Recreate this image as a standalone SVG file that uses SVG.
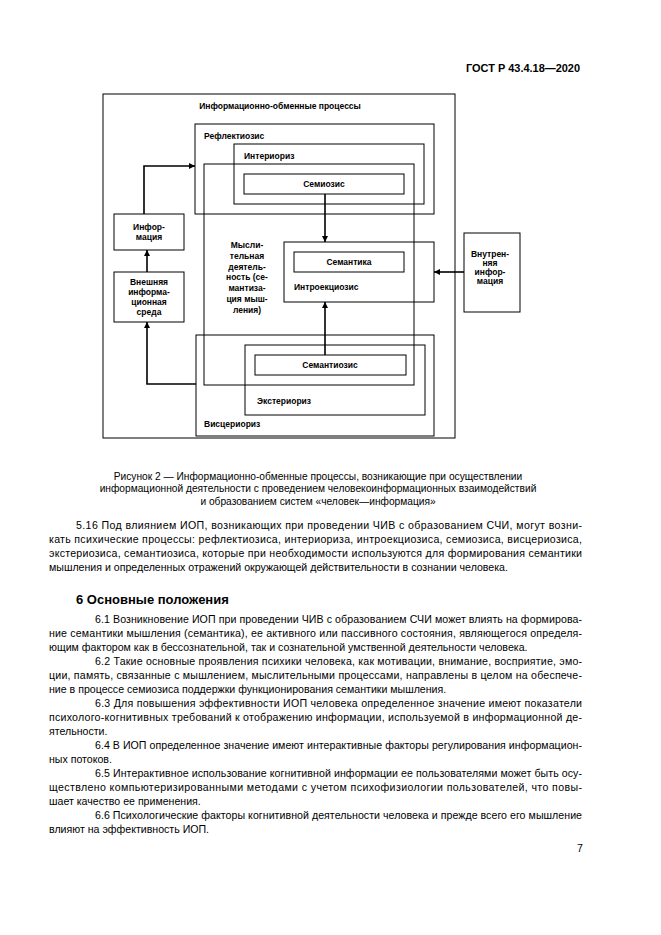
<svg xmlns="http://www.w3.org/2000/svg" width="661" height="935" viewBox="0 0 661 935">
<style>
.bx{fill:none;stroke:#000;stroke-width:1}
.cn{fill:none;stroke:#000;stroke-width:1.6}
.lb{font-family:"Liberation Sans",Arial,sans-serif;font-size:8.5px;font-weight:bold;fill:#000}
.c{text-anchor:middle}
.body{font-family:"Liberation Sans",Arial,sans-serif;font-size:10.6px;fill:#000}
.cap{font-family:"Liberation Sans",Arial,sans-serif;font-size:10.2px;fill:#000;text-anchor:middle}
.hd{font-family:"Liberation Sans",Arial,sans-serif;font-weight:bold;fill:#000}
</style>
<defs>
<marker id="ah" viewBox="0 0 10 10" refX="10" refY="5" markerWidth="4" markerHeight="4" orient="auto" markerUnits="strokeWidth">
<path d="M0,0 L10,5 L0,10 z" fill="#000"/>
</marker>
</defs>
<rect width="661" height="935" fill="#fff"/>
<text class="hd" x="466" y="72" font-size="11" textLength="114" lengthAdjust="spacingAndGlyphs">ГОСТ Р 43.4.18—2020</text>

<g id="outer"><rect class="bx" x="103" y="94" width="352" height="344"/>
<text class="lb c" x="280" y="109">Информационно-обменные процессы</text></g>
<g id="reflekt"><rect class="bx" x="195" y="124" width="239" height="90"/>
<text class="lb" x="204" y="139">Рефлектиозис</text></g>
<g id="interior"><rect class="bx" x="234" y="144" width="190" height="60"/>
<text class="lb" x="244" y="159">Интериориз</text></g>
<g id="mysl"><rect class="bx" x="204" y="164" width="210" height="221"/>
<text class="lb c" x="247"><tspan x="247" y="248">Мысли-</tspan><tspan x="247" y="259">тельная</tspan><tspan x="247" y="270">деятель-</tspan><tspan x="247" y="280">ность (се-</tspan><tspan x="247" y="291">мантиза-</tspan><tspan x="247" y="302">ция мыш-</tspan><tspan x="247" y="313">ления)</tspan></text></g>
<g id="semioz"><rect class="bx" x="244" y="174" width="160" height="20"/>
<text class="lb c" x="324" y="187">Семиозис</text></g>
<g id="introek"><rect class="bx" x="284" y="242" width="150" height="60"/>
<text class="lb" x="294" y="290">Интроекциозис</text></g>
<g id="semantika"><rect class="bx" x="294" y="252" width="110" height="20"/>
<text class="lb c" x="349" y="265">Семантика</text></g>
<g id="vistser"><rect class="bx" x="196" y="335" width="238" height="101"/>
<text class="lb" x="204" y="427">Висцериориз</text></g>
<g id="ekster"><rect class="bx" x="245" y="345" width="180" height="70"/>
<text class="lb" x="257" y="404">Экстериориз</text></g>
<g id="semantioz"><rect class="bx" x="255" y="355" width="151" height="20"/>
<text class="lb c" x="330" y="368">Семантиозис</text></g>
<g id="inform"><rect class="bx" x="114" y="214" width="70" height="36"/>
<text class="lb c" x="149"><tspan x="149" y="230">Инфор-</tspan><tspan x="149" y="240">мация</tspan></text></g>
<g id="vneshn"><rect class="bx" x="114" y="272" width="70" height="50"/>
<text class="lb c" x="149"><tspan x="149" y="285">Внешняя</tspan><tspan x="149" y="295">информа-</tspan><tspan x="149" y="305">ционная</tspan><tspan x="149" y="315">среда</tspan></text></g>
<g id="vnutr"><rect class="bx" x="464" y="233" width="56" height="79"/>
<text class="lb c" x="490"><tspan x="490" y="257">Внутрен-</tspan><tspan x="490" y="266">няя</tspan><tspan x="490" y="275">инфор-</tspan><tspan x="490" y="284">мация</tspan></text></g>

<g id="connectors">
<path class="cn" d="M325,194 V242" marker-end="url(#ah)"/>
<path class="cn" d="M325,355 V302" marker-end="url(#ah)"/>
<path class="cn" d="M464,272 H434" marker-end="url(#ah)"/>
<path class="cn" d="M144,214 V166 H195" marker-end="url(#ah)"/>
<path class="cn" d="M147,272 V250" marker-end="url(#ah)"/>
<path class="cn" d="M196,384 H147 V322" marker-end="url(#ah)"/>
</g>

<g id="caption">
<text class="cap" x="318" y="479.5">Рисунок 2 — Информационно-обменные процессы, возникающие при осуществлении</text>
<text class="cap" x="318" y="492">информационной деятельности с проведением человекоинформационных взаимодействий</text>
<text class="cap" x="318" y="504.5">и образованием систем «человек—информация»</text>
</g>

<g id="text">
<text class="body" x="76" y="529" textLength="506" lengthAdjust="spacing">5.16  Под влиянием ИОП, возникающих при проведении ЧИВ с образованием СЧИ, могут возни-</text>
<text class="body" x="49" y="543" textLength="533" lengthAdjust="spacing">кать психические процессы: рефлектиозиса, интериориза, интроекциозиса, семиозиса, висцериозиса,</text>
<text class="body" x="49" y="557" textLength="533" lengthAdjust="spacing">экстериозиса, семантиозиса, которые при необходимости используются для формирования семантики</text>
<text class="body" x="49" y="571">мышления и определенных отражений окружающей действительности в сознании человека.</text>

<text class="hd" x="76" y="603.5" font-size="13">6  Основные положения</text>

<text class="body" x="95" y="622.5" textLength="487" lengthAdjust="spacing">6.1  Возникновение ИОП при проведении ЧИВ с образованием СЧИ может влиять на формирова-</text>
<text class="body" x="49" y="636.5" textLength="533" lengthAdjust="spacing">ние семантики мышления (семантика), ее активного или пассивного состояния, являющегося определя-</text>
<text class="body" x="49" y="650.5">ющим фактором как в бессознательной, так и сознательной умственной деятельности человека.</text>
<text class="body" x="95" y="664.5" textLength="487" lengthAdjust="spacing">6.2  Такие основные проявления психики человека, как мотивации, внимание, восприятие, эмо-</text>
<text class="body" x="49" y="678.5" textLength="533" lengthAdjust="spacing">ции, память, связанные с мышлением, мыслительными процессами, направлены в целом на обеспече-</text>
<text class="body" x="49" y="692.5">ние в процессе семиозиса поддержки функционирования семантики мышления.</text>
<text class="body" x="95" y="706.5" textLength="487" lengthAdjust="spacing">6.3  Для повышения эффективности ИОП человека определенное значение имеют показатели</text>
<text class="body" x="49" y="720.5" textLength="533" lengthAdjust="spacing">психолого-когнитивных требований к отображению информации, используемой в информационной де-</text>
<text class="body" x="49" y="734.5">ятельности.</text>
<text class="body" x="95" y="748.5" textLength="487" lengthAdjust="spacing">6.4  В ИОП определенное значение имеют интерактивные факторы регулирования информацион-</text>
<text class="body" x="49" y="762.5">ных потоков.</text>
<text class="body" x="95" y="776.5" textLength="487" lengthAdjust="spacing">6.5  Интерактивное использование когнитивной информации ее пользователями может быть осу-</text>
<text class="body" x="49" y="790.5" textLength="533" lengthAdjust="spacing">ществлено компьютеризированными методами с учетом психофизиологии пользователей, что повы-</text>
<text class="body" x="49" y="804.5">шает качество ее применения.</text>
<text class="body" x="95" y="818.5" textLength="487" lengthAdjust="spacing">6.6  Психологические факторы когнитивной деятельности человека и прежде всего его мышление</text>
<text class="body" x="49" y="832.5">влияют на эффективность ИОП.</text>

<text class="body" x="577" y="852">7</text>
</g>
</svg>
